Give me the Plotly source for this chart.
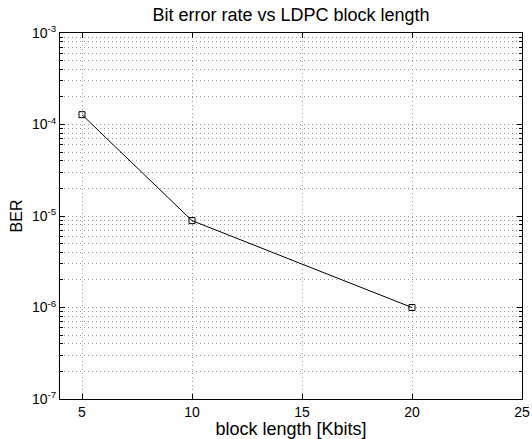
import plotly.graph_objects as go

block_length = [5, 10, 20]
ber = [1.28e-4, 8.9e-6, 1.0e-6]
x_ticks = [5, 10, 15, 20, 25]
y_ticks = [1e-7, 1e-6, 1e-5, 1e-4, 1e-3]
y_ticklabels = ["10<sup>-7</sup>", "10<sup>-6</sup>", "10<sup>-5</sup>", "10<sup>-4</sup>", "10<sup>-3</sup>"]
y_minor = [m * 10.0 ** e for e in range(-7, -3) for m in range(2, 10)]

fig = go.Figure()
fig.add_trace(go.Scatter(
    x=block_length, y=ber, mode="lines+markers",
    line=dict(color="black", width=1),
    marker=dict(symbol="square-open", size=6, color="black", line=dict(width=1)),
    showlegend=False,
))

font = dict(family="Liberation Sans, Arial, sans-serif", color="black")
grid = dict(showgrid=True, gridcolor="#999999", griddash="1px,3px", gridwidth=1)
fig.update_layout(
    width=532, height=439,
    paper_bgcolor="white", plot_bgcolor="white",
    margin=dict(l=60, r=10, t=33, b=40),
    font=dict(size=13, **font),
    title=dict(text="Bit error rate vs LDPC block length", x=291 / 532, xanchor="center",
               y=1 - 15 / 439, yanchor="middle", font=dict(size=18, **font)),
    xaxis=dict(
        range=[4, 25], tickvals=x_ticks, ticks="inside", ticklen=5, tickcolor="black",
        showline=True, linecolor="black", linewidth=1, mirror="ticks",
        zeroline=False, automargin=False,
        title=dict(text="block length [Kbits]", standoff=0, font=dict(size=18, **font)),
        tickfont=dict(size=14, **font),
        **grid,
    ),
    yaxis=dict(
        type="log", range=[-7, -3], tickvals=y_ticks, ticktext=y_ticklabels,
        ticks="inside", ticklen=5, tickcolor="black",
        showline=True, linecolor="black", linewidth=1, mirror="ticks",
        minor=dict(tickvals=y_minor, ticks="inside", ticklen=3, tickcolor="black", **grid),
        zeroline=False, automargin=False,
        title=dict(text="BER", standoff=5, font=dict(size=16, **font)),
        tickfont=dict(size=14, **font),
        **grid,
    ),
)

fig.write_html("out.html", config={"displayModeBar": False},
               post_script="document.body.style.margin='0px';")
